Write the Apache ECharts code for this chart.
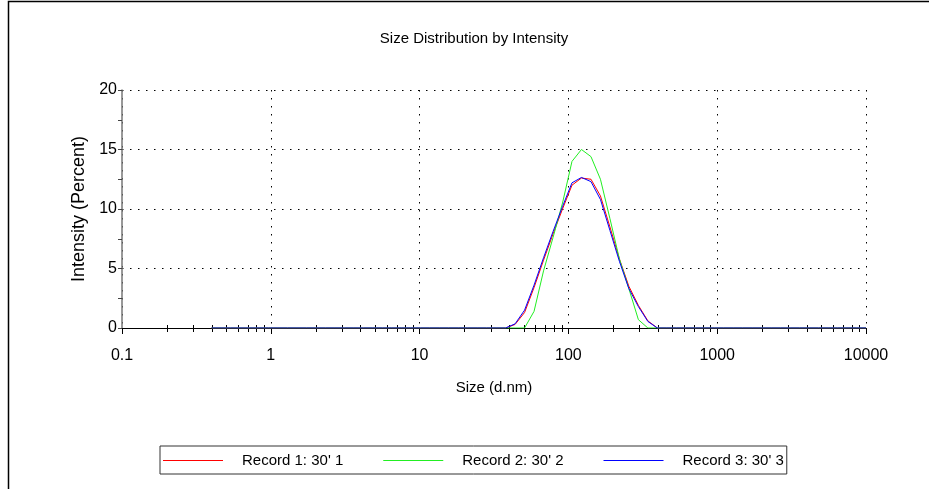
<!DOCTYPE html>
<html>
<head>
<meta charset="utf-8">
<title>Size Distribution by Intensity</title>
<script src="https://cdn.jsdelivr.net/npm/echarts@6/dist/echarts.min.js"></script>
<style>
  html, body { margin: 0; padding: 0; background: #fff; }
  #chart { width: 929px; height: 489px; }
</style>
</head>
<body>
<div id="chart"></div>
<script>
// size classes (d.nm), log spaced
const sizes = [
  0.4, 0.4632, 0.5365, 0.6213, 0.7195, 0.8332, 0.9649, 1.117, 1.294, 1.499,
  1.736, 2.01, 2.328, 2.696, 3.122, 3.615, 4.187, 4.849, 5.615, 6.503,
  7.531, 8.721, 10.1, 11.7, 13.54, 15.69, 18.17, 21.04, 24.36, 28.21,
  32.67, 37.84, 43.82, 50.75, 58.77, 68.06, 78.82, 91.28, 105.7, 122.4,
  141.8, 164.2, 190.1, 220.2, 255.0, 295.3, 342.0, 396.1, 458.7, 531.2,
  615.1, 712.4, 825.0, 955.4, 1106, 1281, 1484, 1718, 1990, 2305,
  2669, 3091, 3580, 4145, 4801, 5560, 6439, 7456, 8635, 10000
]

// intensity (%) per size class
const record1 = [
  0, 0, 0, 0, 0, 0, 0, 0, 0, 0,
  0, 0, 0, 0, 0, 0, 0, 0, 0, 0,
  0, 0, 0, 0, 0, 0, 0, 0, 0, 0,
  0, 0, 0.3, 1.3, 3.4, 5.7, 7.9, 10.0, 12.0, 12.6,
  12.5, 11.1, 8.5, 5.8, 3.5, 1.9, 0.6, 0, 0, 0,
  0, 0, 0, 0, 0, 0, 0, 0, 0, 0,
  0, 0, 0, 0, 0, 0, 0, 0, 0, 0
]
const record2 = [
  0, 0, 0, 0, 0, 0, 0, 0, 0, 0,
  0, 0, 0, 0, 0, 0, 0, 0, 0, 0,
  0, 0, 0, 0, 0, 0, 0, 0, 0, 0,
  0, 0, 0, 0, 1.4, 4.8, 7.6, 10.5, 14.0, 15.0,
  14.4, 12.5, 9.2, 5.8, 3.3, 0.7, 0, 0, 0, 0,
  0, 0, 0, 0, 0, 0, 0, 0, 0, 0,
  0, 0, 0, 0, 0, 0, 0, 0, 0, 0
]
const record3 = [
  0, 0, 0, 0, 0, 0, 0, 0, 0, 0,
  0, 0, 0, 0, 0, 0, 0, 0, 0, 0,
  0, 0, 0, 0, 0, 0, 0, 0, 0, 0,
  0, 0, 0.35, 1.5, 3.6, 5.9, 8.1, 10.2, 12.2, 12.65,
  12.3, 10.8, 8.2, 5.6, 3.3, 1.8, 0.55, 0, 0, 0,
  0, 0, 0, 0, 0, 0, 0, 0, 0, 0,
  0, 0, 0, 0, 0, 0, 0, 0, 0, 0
]

const recordNames = ["Record 1: 30' 1", "Record 2: 30' 2", "Record 3: 30' 3"]
const recordColors = ['#ff0000', '#22ee22', '#0000ff']

// small ticks between the decades of the size axis
const minorTicks = [
  0.2, 0.3, 0.4, 0.5, 0.6, 0.7, 0.8, 0.9,
  2, 3, 4, 5, 6, 7, 8, 9,
  20, 30, 40, 50, 60, 70, 80, 90,
  200, 300, 400, 500, 600, 700, 800, 900,
  2000, 3000, 4000, 5000, 6000, 7000, 8000, 9000
]

const FONT = '"Liberation Sans", Arial, sans-serif'
const dotted = { color: '#000', width: 1, type: [1.5, 6.5] }

const chart = echarts.init(document.getElementById('chart'))

const lineSeries = [record1, record2, record3].map((vals, k) => ({
  name: recordNames[k],
  type: 'line',
  symbol: 'none',
  lineStyle: { width: 1, color: recordColors[k] },
  itemStyle: { color: recordColors[k] },
  data: sizes.map((s, i) => [s, vals[i]])
}))

// minor ticks of the log axis, placed through the axis scale
const tickSeries = {
  name: 'minorTicks',
  type: 'custom',
  silent: true,
  clip: false,
  z: 3,
  data: minorTicks.map(v => [v, 0]),
  encode: { x: 0, y: 1 },
  renderItem: (params, api) => {
    const p = api.coord([api.value(0), api.value(1)])
    const x = Math.round(p[0]) + 0.5
    return {
      type: 'line',
      shape: { x1: x, y1: p[1] - 3, x2: x, y2: p[1] + 4 },
      style: { stroke: '#000', lineWidth: 1 }
    }
  }
}

chart.setOption({
  animation: false,
  textStyle: { fontFamily: FONT, color: '#000' },
  title: {
    text: 'Size Distribution by Intensity',
    left: 474,
    textAlign: 'center',
    top: 31,
    padding: 0,
    textStyle: { fontFamily: FONT, fontSize: 15, fontWeight: 'normal', color: '#000' }
  },
  graphic: [{
    type: 'rect',
    shape: { x: 8.5, y: 1.5, width: 1200, height: 1200 },
    style: { fill: 'none', stroke: '#000', lineWidth: 1.5 },
    silent: true
  }],
  legend: {
    left: 160,
    top: 446,
    padding: [7, 3, 6, 3],
    borderColor: '#333',
    borderWidth: 1,
    icon: 'rect',
    itemWidth: 60,
    itemHeight: 1,
    itemGap: 40,
    textStyle: { fontFamily: FONT, fontSize: 15, color: '#000', padding: [0, 0, 0, 14] },
    data: recordNames
  },
  grid: { left: 122, right: 63, top: 90, bottom: 161 },
  xAxis: {
    type: 'log',
    logBase: 10,
    min: 0.1,
    max: 10000,
    name: 'Size (d.nm)',
    nameLocation: 'middle',
    nameGap: 52,
    nameTextStyle: { fontFamily: FONT, fontSize: 15, color: '#000' },
    axisLine: { lineStyle: { color: '#000', width: 1 } },
    axisTick: { length: 6, lineStyle: { color: '#000' } },
    axisLabel: {
      fontFamily: FONT, fontSize: 16, color: '#000', margin: 20,
      formatter: v => String(+Number(v).toPrecision(6))
    },
    splitLine: { show: true, lineStyle: dotted }
  },
  yAxis: {
    type: 'value',
    min: 0,
    max: 20,
    interval: 5,
    name: 'Intensity (Percent)',
    nameLocation: 'middle',
    nameGap: 32,
    nameTextStyle: { fontFamily: FONT, fontSize: 18, color: '#000' },
    axisLine: { show: true, onZero: false, lineStyle: { color: '#777', width: 1.5 } },
    axisTick: { show: true, length: 4, lineStyle: { color: '#444' } },
    minorTick: { show: true, splitNumber: 2, length: 4, lineStyle: { color: '#444' } },
    axisLabel: { fontFamily: FONT, fontSize: 16, color: '#000', margin: 5 },
    splitLine: { show: true, lineStyle: dotted }
  },
  series: lineSeries.concat([tickSeries])
})
</script>
</body>
</html>
